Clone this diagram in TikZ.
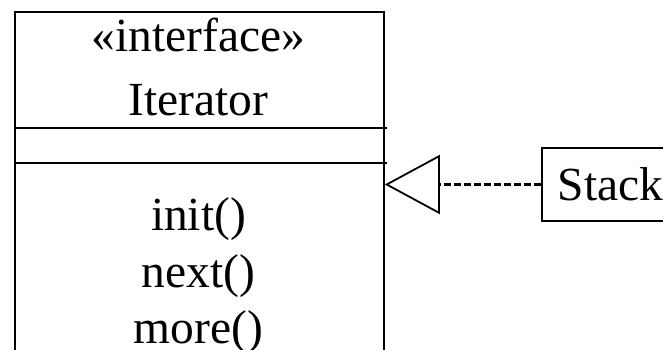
\documentclass[tikz,border=0pt]{standalone}
\usepackage{fontspec}
\setmainfont{Liberation Serif}
\usetikzlibrary{arrows.meta}
\begin{document}
\begin{tikzpicture}[x=1pt,y=-1pt,
  umltext/.style={font=\fontsize{47.5}{57}\selectfont, anchor=base, inner sep=0pt},
  boxline/.style={line width=1.8pt},
  realize/.style={line width=3.6pt, dash pattern=on 7pt off 3pt,
    -{Triangle[open, length=55pt, width=59pt, line width=1.8pt]}}]
  \useasboundingbox (0,0) rectangle (663,350);
  \clip (0,0) rectangle (663,350);
  % interface class box, running off the bottom
  \node[boxline, draw, rectangle, minimum width=369pt, minimum height=420pt,
        anchor=north west, inner sep=0pt] (iface) at (14,11) {};
  \coordinate (sepA) at (14,128);
  \coordinate (sepB) at (14,163);
  \draw[boxline] (sepA) -- ++(373,0);
  \draw[boxline] (sepB) -- ++(373,0);
  \node[umltext] (stereo) at (198.5,52) {«interface»};
  \node[umltext] (name)   at (198.5,115) {Iterator};
  \node[umltext] (op1)    at (198.5,230) {init()};
  \node[umltext] (op2)    at (198.5,287) {next()};
  \node[umltext] (op3)    at (198.5,343) {more()};
  % implementing class
  \node[boxline, draw, rectangle, anchor=west, minimum height=73pt,
        inner xsep=16pt, font=\fontsize{47.5}{57}\selectfont] (stack) at (541,184.5) {Stack};
  \draw[realize] (stack.west) -- (stack.west -| iface.east);
\end{tikzpicture}
\end{document}
